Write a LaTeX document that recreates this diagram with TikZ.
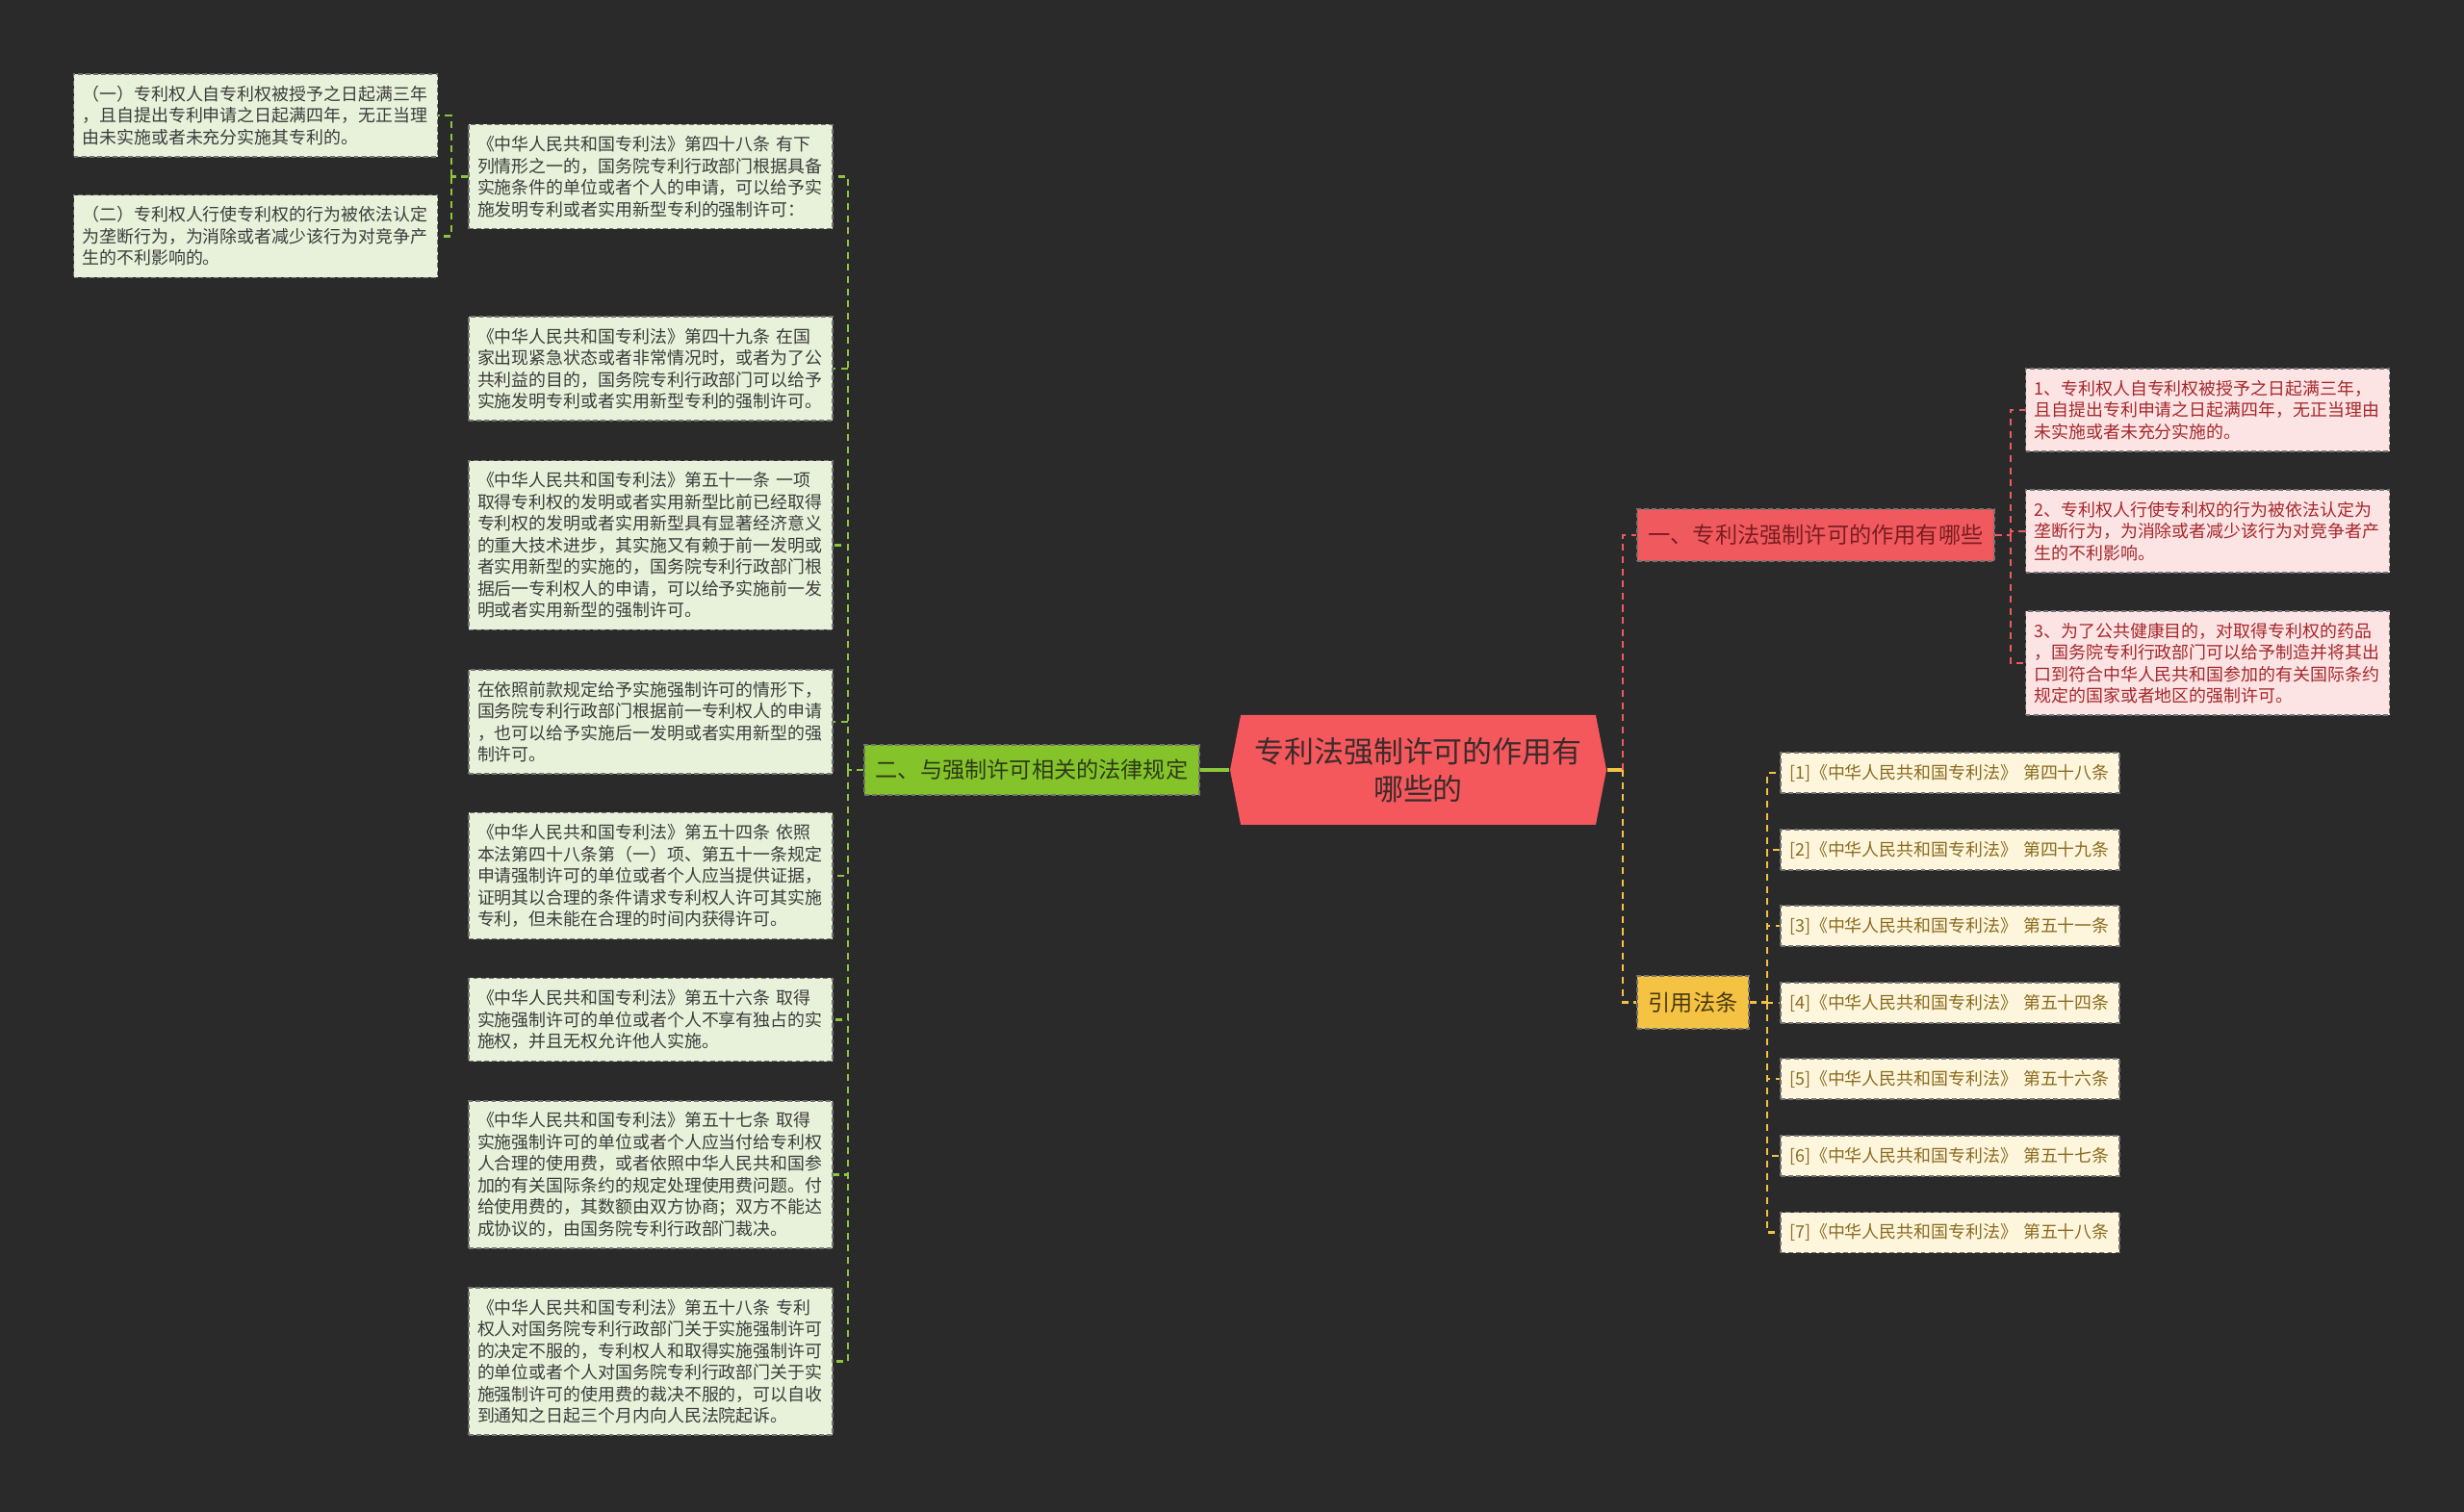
\documentclass[tikz,border=0pt]{standalone}
\usepackage{fontspec}
\newfontfamily\cjk{Noto Sans CJK SC}
\usetikzlibrary{calc}
\usetikzlibrary{shapes.symbols}
\definecolor{bgdark}{HTML}{2A2A2A}
\definecolor{hubred}{HTML}{F5585C}
\definecolor{hubtext}{HTML}{3A2B2B}
\definecolor{redbranch}{HTML}{F05A5E}
\definecolor{redtext}{HTML}{7A1D20}
\definecolor{pinkleaf}{HTML}{FDE4E4}
\definecolor{pinktext}{HTML}{A4282C}
\definecolor{greenbranch}{HTML}{84C42A}
\definecolor{greentext}{HTML}{2E3A18}
\definecolor{greenleaf}{HTML}{E8F2DA}
\definecolor{leaftext}{HTML}{3C3C3C}
\definecolor{greenline}{HTML}{8CC63F}
\definecolor{yellowbranch}{HTML}{F5C343}
\definecolor{yellowtext}{HTML}{4A3A10}
\definecolor{refleaf}{HTML}{FDF6DD}
\definecolor{reftext}{HTML}{8B6B1F}
\definecolor{redline}{HTML}{EE5A5E}
\definecolor{yellowline}{HTML}{F2C246}

\begin{document}
\begin{tikzpicture}[y=-1cm,
    leaf/.style={draw=black!55, dash pattern=on 1.4pt off 0.9pt, line width=0.45pt,
        text width=3.6cm, inner xsep=0.09cm, inner ysep=0.12cm, align=left,
        font=\cjk\fontsize{5.1pt}{6.4pt}\selectfont},
    gbox/.style={leaf, fill=greenleaf, text=leaftext},
    pbox/.style={leaf, fill=pinkleaf, text=pinktext},
    refbox/.style={leaf, fill=refleaf, text=reftext, text width=3.34cm,
        minimum height=0.42cm, inner ysep=0.05cm},
    branch/.style={draw=black!55, dash pattern=on 1.4pt off 0.9pt, line width=0.45pt,
        inner sep=0pt, minimum height=0.54cm, font=\cjk\fontsize{6.6pt}{8pt}\selectfont},
    hub/.style={shape=signal, signal to=east and west, signal pointer angle=158,
        fill=hubred, text=hubtext, inner sep=0pt, minimum width=3.91cm, minimum height=1.14cm,
        align=center, font=\cjk\fontsize{8.8pt}{11.1pt}\selectfont},
    glink/.style={draw=greenline, line width=0.6pt, dash pattern=on 2pt off 1.6pt},
    rlink/.style={draw=redline, line width=0.6pt, dash pattern=on 2pt off 1.6pt},
    ylink/.style={draw=yellowline, line width=0.6pt, dash pattern=on 2pt off 1.6pt}]
        % background
        \fill[bgdark] (0,0) rectangle (25.6,15.71);
        \useasboundingbox (0,0) rectangle (25.6,15.71);
        % ~~~~~~~~~~~~~~~~~ centre
        \node[hub] (c) at (14.735,8.00) {专利法强制许可的作用有\\哪些的};
        \node[branch, fill=redbranch, text=redtext, minimum width=3.71cm] (r) at (18.865,5.56)
            {一、专利法强制许可的作用有哪些};
        \node[branch, fill=greenbranch, text=greentext, minimum width=3.48cm, minimum height=0.52cm]
            (g) at (10.72,8.00) {二、与强制许可相关的法律规定};
        \node[branch, fill=yellowbranch, text=yellowtext, minimum width=1.16cm, minimum height=0.55cm]
            (yy) at (17.59,10.415) {引用法条};
        % ~~~~~~~~~~~~~~~~~ right, red
        \node[pbox] (p1) at (22.935,4.26) {1、专利权人自专利权被授予之日起满三年，\\且自提出专利申请之日起满四年，无正当理由\\未实施或者未充分实施的。};
        \node[pbox] (p2) at (22.935,5.52) {2、专利权人行使专利权的行为被依法认定为\\垄断行为，为消除或者减少该行为对竞争者产\\生的不利影响。};
        \node[pbox] (p3) at (22.935,6.89) {3、为了公共健康目的，对取得专利权的药品\\，国务院专利行政部门可以给予制造并将其出\\口到符合中华人民共和国参加的有关国际条约\\规定的国家或者地区的强制许可。};
        % ~~~~~~~~~~~~~~~~~ right, references
        \foreach \i/\art/\y in {1/四十八/8.03, 2/四十九/8.83, 3/五十一/9.62, 4/五十四/10.42,
                                5/五十六/11.21, 6/五十七/12.01, 7/五十八/12.805}
        {
            \node[refbox] (ref\i) at (20.26,\y) {[\i]《中华人民共和国专利法》 第\art 条};
        }
        % ~~~~~~~~~~~~~~~~~ left, green
        \node[gbox] (g1) at (6.76,1.835) {《中华人民共和国专利法》第四十八条 有下\\列情形之一的，国务院专利行政部门根据具备\\实施条件的单位或者个人的申请，可以给予实\\施发明专利或者实用新型专利的强制许可：};
        \node[gbox] (g2) at (6.76,3.83) {《中华人民共和国专利法》第四十九条 在国\\家出现紧急状态或者非常情况时，或者为了公\\共利益的目的，国务院专利行政部门可以给予\\实施发明专利或者实用新型专利的强制许可。};
        \node[gbox] (g3) at (6.76,5.665) {《中华人民共和国专利法》第五十一条 一项\\取得专利权的发明或者实用新型比前已经取得\\专利权的发明或者实用新型具有显著经济意义\\的重大技术进步，其实施又有赖于前一发明或\\者实用新型的实施的，国务院专利行政部门根\\据后一专利权人的申请，可以给予实施前一发\\明或者实用新型的强制许可。};
        \node[gbox] (g4) at (6.76,7.50) {在依照前款规定给予实施强制许可的情形下，\\国务院专利行政部门根据前一专利权人的申请\\，也可以给予实施后一发明或者实用新型的强\\制许可。};
        \node[gbox] (g5) at (6.76,9.10) {《中华人民共和国专利法》第五十四条 依照\\本法第四十八条第（一）项、第五十一条规定\\申请强制许可的单位或者个人应当提供证据，\\证明其以合理的条件请求专利权人许可其实施\\专利，但未能在合理的时间内获得许可。};
        \node[gbox] (g6) at (6.76,10.595) {《中华人民共和国专利法》第五十六条 取得\\实施强制许可的单位或者个人不享有独占的实\\施权，并且无权允许他人实施。};
        \node[gbox] (g7) at (6.76,12.205) {《中华人民共和国专利法》第五十七条 取得\\实施强制许可的单位或者个人应当付给专利权\\人合理的使用费，或者依照中华人民共和国参\\加的有关国际条约的规定处理使用费问题。付\\给使用费的，其数额由双方协商；双方不能达\\成协议的，由国务院专利行政部门裁决。};
        \node[gbox] (g8) at (6.76,14.145) {《中华人民共和国专利法》第五十八条 专利\\权人对国务院专利行政部门关于实施强制许可\\的决定不服的，专利权人和取得实施强制许可\\的单位或者个人对国务院专利行政部门关于实\\施强制许可的使用费的裁决不服的，可以自收\\到通知之日起三个月内向人民法院起诉。};
        \node[gbox] (l1) at (2.655,1.20) {（一）专利权人自专利权被授予之日起满三年\\，且自提出专利申请之日起满四年，无正当理\\由未实施或者未充分实施其专利的。};
        \node[gbox] (l2) at (2.655,2.455) {（二）专利权人行使专利权的行为被依法认定\\为垄断行为，为消除或者减少该行为对竞争产\\生的不利影响的。};
        % ~~~~~~~~~~~~~~~~~ links
        \draw[greenline, line width=1.2pt] (c.west) -- (g.east);
        \draw[yellowline, line width=1.2pt] (c.east) -- ++(0.16,0) coordinate (mspine);
        \draw[rlink] (mspine) |- (r.west);
        \draw[ylink] (mspine) |- (yy.west);
        \draw[rlink] (r.east) -- ++(0.16,0) coordinate (rspine);
        \foreach \i in {1,2,3}
        {
            \draw[rlink] (rspine) |- (p\i.west);
        }
        \draw[ylink] (yy.east) -- ++(0.18,0) coordinate (yspine);
        \foreach \i in {1,...,7}
        {
            \draw[ylink] (yspine) |- (ref\i.west);
        }
        \draw[glink] (g.west) -- ++(-0.16,0) coordinate (gspine);
        \foreach \i in {1,...,8}
        {
            \draw[glink] (gspine) |- (g\i.east);
        }
        \draw[glink] (g1.west) -- ++(-0.17,0) coordinate (lspine);
        \foreach \i in {1,2}
        {
            \draw[glink] (lspine) |- (l\i.east);
        }
\end{tikzpicture}
\end{document}
